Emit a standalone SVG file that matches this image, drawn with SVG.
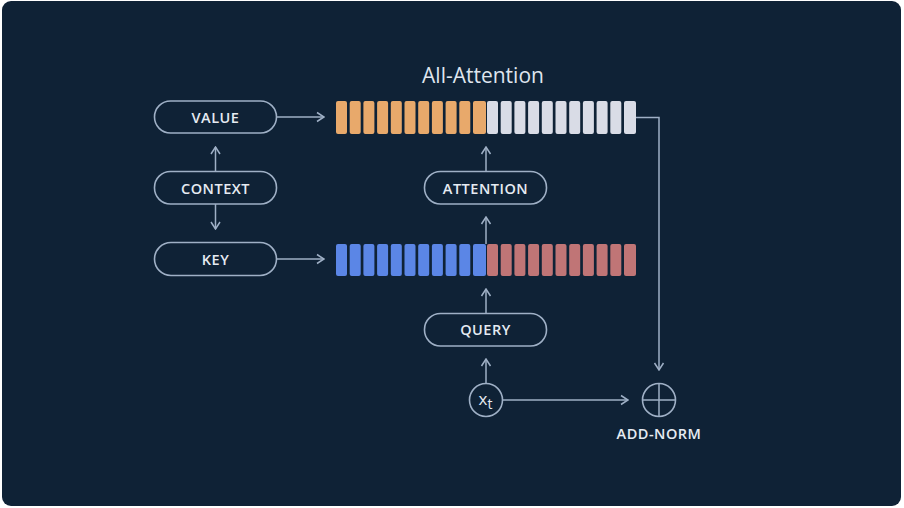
<svg xmlns="http://www.w3.org/2000/svg" width="904" height="508" viewBox="0 0 904 508">
<defs>
<style>
.pill{fill:none;stroke:#9fb0c6;stroke-width:1.6}
.lbl{font-family:"Open Sans","Noto Sans",sans-serif;font-weight:600;font-size:14.5px;fill:#e6ebf2;text-anchor:middle;letter-spacing:0.5px}
.conn{fill:none;stroke:#9fb0c6;stroke-width:1.5}
.o{fill:#e8a96b}.w{fill:#d9dce6}.b{fill:#5b86e6}.r{fill:#c07576}
</style>
<marker id="ah" viewBox="0 0 12 12" refX="11" refY="6" markerWidth="12" markerHeight="12" markerUnits="userSpaceOnUse" orient="auto">
<path d="M4,1.5 L11,6 L4,10.5" fill="none" stroke="#9fb0c6" stroke-width="1.5"/>
</marker>
</defs>
<rect x="0" y="0" width="904" height="508" fill="#ffffff"/>
<rect x="2" y="1" width="899" height="505" rx="9" fill="#0f2236"/>
<text x="483" y="83" font-family="'Open Sans','Noto Sans',sans-serif" font-size="21" fill="#dfe5ee" text-anchor="middle">All-Attention</text>

<g id="connectors">
<line class="conn" x1="277" y1="117" x2="324" y2="117" marker-end="url(#ah)"/>
<line class="conn" x1="277" y1="259" x2="324" y2="259" marker-end="url(#ah)"/>
<line class="conn" x1="215.5" y1="171" x2="215.5" y2="147" marker-end="url(#ah)"/>
<line class="conn" x1="215.5" y1="204" x2="215.5" y2="229" marker-end="url(#ah)"/>
<line class="conn" x1="486" y1="171" x2="486" y2="147" marker-end="url(#ah)"/>
<line class="conn" x1="486" y1="244" x2="486" y2="217" marker-end="url(#ah)"/>
<line class="conn" x1="486" y1="313" x2="486" y2="289" marker-end="url(#ah)"/>
<line class="conn" x1="486" y1="383" x2="486" y2="359" marker-end="url(#ah)"/>
<line class="conn" x1="503" y1="400" x2="628" y2="400" marker-end="url(#ah)"/>
<polyline class="conn" points="636,117.5 659,117.5 659,370" marker-end="url(#ah)"/>
</g>

<g id="value-seq">
<rect class="o" x="336" y="101" width="11" height="33" rx="2"/>
<rect class="o" x="349.7" y="101" width="11" height="33" rx="2"/>
<rect class="o" x="363.4" y="101" width="11" height="33" rx="2"/>
<rect class="o" x="377.1" y="101" width="11" height="33" rx="2"/>
<rect class="o" x="390.8" y="101" width="11" height="33" rx="2"/>
<rect class="o" x="404.5" y="101" width="11" height="33" rx="2"/>
<rect class="o" x="418.2" y="101" width="11" height="33" rx="2"/>
<rect class="o" x="431.9" y="101" width="11" height="33" rx="2"/>
<rect class="o" x="445.6" y="101" width="11" height="33" rx="2"/>
<rect class="o" x="459.3" y="101" width="11" height="33" rx="2"/>
<rect class="o" x="473" y="101" width="13" height="33" rx="2"/>
<rect class="w" x="487" y="101" width="11" height="33" rx="2"/>
<rect class="w" x="500.7" y="101" width="11" height="33" rx="2"/>
<rect class="w" x="514.4" y="101" width="11" height="33" rx="2"/>
<rect class="w" x="528.1" y="101" width="11" height="33" rx="2"/>
<rect class="w" x="541.8" y="101" width="11" height="33" rx="2"/>
<rect class="w" x="555.5" y="101" width="11" height="33" rx="2"/>
<rect class="w" x="569.2" y="101" width="11" height="33" rx="2"/>
<rect class="w" x="582.9" y="101" width="11" height="33" rx="2"/>
<rect class="w" x="596.6" y="101" width="11" height="33" rx="2"/>
<rect class="w" x="610.3" y="101" width="11" height="33" rx="2"/>
<rect class="w" x="624" y="101" width="12" height="33" rx="2"/>
</g>

<g id="key-seq">
<rect class="b" x="336" y="244" width="11" height="32" rx="2"/>
<rect class="b" x="349.7" y="244" width="11" height="32" rx="2"/>
<rect class="b" x="363.4" y="244" width="11" height="32" rx="2"/>
<rect class="b" x="377.1" y="244" width="11" height="32" rx="2"/>
<rect class="b" x="390.8" y="244" width="11" height="32" rx="2"/>
<rect class="b" x="404.5" y="244" width="11" height="32" rx="2"/>
<rect class="b" x="418.2" y="244" width="11" height="32" rx="2"/>
<rect class="b" x="431.9" y="244" width="11" height="32" rx="2"/>
<rect class="b" x="445.6" y="244" width="11" height="32" rx="2"/>
<rect class="b" x="459.3" y="244" width="11" height="32" rx="2"/>
<rect class="b" x="473" y="244" width="13" height="32" rx="2"/>
<rect class="r" x="487" y="244" width="11" height="32" rx="2"/>
<rect class="r" x="500.7" y="244" width="11" height="32" rx="2"/>
<rect class="r" x="514.4" y="244" width="11" height="32" rx="2"/>
<rect class="r" x="528.1" y="244" width="11" height="32" rx="2"/>
<rect class="r" x="541.8" y="244" width="11" height="32" rx="2"/>
<rect class="r" x="555.5" y="244" width="11" height="32" rx="2"/>
<rect class="r" x="569.2" y="244" width="11" height="32" rx="2"/>
<rect class="r" x="582.9" y="244" width="11" height="32" rx="2"/>
<rect class="r" x="596.6" y="244" width="11" height="32" rx="2"/>
<rect class="r" x="610.3" y="244" width="11" height="32" rx="2"/>
<rect class="r" x="624" y="244" width="12" height="32" rx="2"/>
</g>

<g id="value"><rect class="pill" x="154.5" y="101" width="122" height="32" rx="16"/><text class="lbl" x="215.5" y="123">VALUE</text></g>
<g id="context"><rect class="pill" x="154.5" y="171.5" width="122" height="32.5" rx="16"/><text class="lbl" x="215.5" y="193.5">CONTEXT</text></g>
<g id="key"><rect class="pill" x="154.5" y="242.5" width="122" height="33" rx="16.5"/><text class="lbl" x="215.5" y="264.5">KEY</text></g>
<g id="attention"><rect class="pill" x="424.5" y="171.5" width="122" height="32.5" rx="16"/><text class="lbl" x="485.5" y="193.5">ATTENTION</text></g>
<g id="query"><rect class="pill" x="424.5" y="313.5" width="122" height="32.5" rx="16"/><text class="lbl" x="485.5" y="335">QUERY</text></g>
<g id="xt"><circle class="pill" cx="486" cy="400" r="16.5"/><text x="485.5" y="405" font-family="'Open Sans','Noto Sans',sans-serif" font-size="17" font-weight="500" fill="#e6ebf2" text-anchor="middle">x<tspan font-size="14" dy="4">t</tspan></text></g>
<g id="add-norm"><circle class="pill" cx="659" cy="400" r="16.5"/><line class="conn" x1="642.5" y1="400" x2="675.5" y2="400"/><line class="conn" x1="659" y1="383.5" x2="659" y2="416.5"/><text class="lbl" x="659" y="439">ADD-NORM</text></g>
</svg>
